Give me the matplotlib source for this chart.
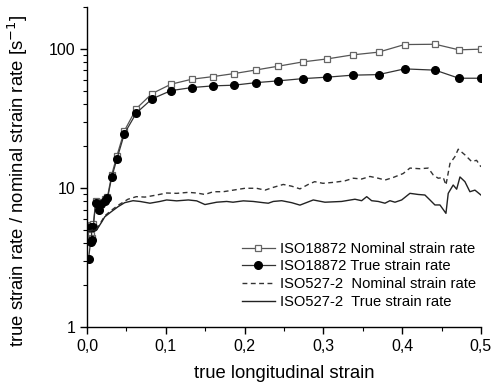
import matplotlib
matplotlib.use('Agg')
import matplotlib.pyplot as plt
from matplotlib.ticker import FixedLocator, FuncFormatter, LogLocator, NullFormatter

plt.rcParams['font.family'] = ['Liberation Sans', 'DejaVu Sans']

# ISO18872 series (markers)
iso18872_x = [0.002, 0.0045, 0.0065, 0.005, 0.008, 0.011, 0.015, 0.018, 0.023, 0.026,
              0.0313, 0.038, 0.0475, 0.0626, 0.0825, 0.1066, 0.133, 0.16, 0.1865,
              0.215, 0.243, 0.274, 0.305, 0.337, 0.370, 0.403, 0.442, 0.472, 0.5]
nominal_rate = [3.2, 4.6, 4.4, 5.4, 5.5, 8.0, 7.3, 7.9, 8.3, 8.66,
                12.4, 17.1, 25.8, 37.2, 47.7, 55.7, 60.5, 63.2, 66.4,
                70.6, 75.1, 80.6, 84.7, 90.5, 94.7, 107.4, 107.9, 98.4, 99.5]
true_rate = [3.1, 4.1, 4.2, 5.27, 5.27, 7.84, 7.0, 7.7, 8.1, 8.43,
             11.9, 16.2, 24.6, 34.6, 43.7, 50.1, 52.7, 54.2, 54.8,
             57.2, 58.9, 61.1, 62.6, 64.7, 65.3, 71.8, 70.3, 61.5, 61.5]

# ISO527-2 nominal strain rate (dashed)
iso527_nom_x = [0.0016, 0.0123, 0.0187, 0.0225, 0.0308, 0.0393, 0.0520, 0.0626, 0.0736,
                0.0884, 0.1011, 0.1138, 0.1286, 0.1392, 0.1497, 0.1603, 0.1730, 0.1857,
                0.2005, 0.2152, 0.2259, 0.2364, 0.2491, 0.2598, 0.2703, 0.2808, 0.2890,
                0.2995, 0.3147, 0.3274, 0.3380, 0.3486, 0.3591, 0.3697, 0.3782, 0.3887,
                0.4013, 0.4099, 0.4226, 0.4331, 0.4395, 0.4458, 0.4522, 0.4556, 0.4607,
                0.4670, 0.4712, 0.4797, 0.4881, 0.4945, 0.5]
iso527_nom = [4.9, 5.05, 5.8, 6.3, 6.9, 7.5, 8.3, 8.66, 8.6,
              8.9, 9.2, 9.15, 9.3, 9.2, 8.98, 9.4, 9.4, 9.65,
              9.95, 9.95, 9.65, 10.1, 10.6, 10.3, 9.85, 10.6, 11.1,
              10.8, 11.0, 11.25, 11.75, 11.6, 12.1, 11.75, 11.4, 11.9,
              12.7, 13.9, 13.75, 13.9, 12.4, 11.75, 11.9, 10.5, 15.0,
              16.8, 19.0, 17.3, 15.5, 15.8, 14.2]

# ISO527-2 true strain rate (solid)
iso527_true_x = [0.0016, 0.0123, 0.0187, 0.0225, 0.0308, 0.0393, 0.0478, 0.0584, 0.0673,
                 0.0799, 0.0926, 0.1011, 0.1138, 0.1286, 0.1392, 0.1497, 0.1646, 0.1773,
                 0.1853, 0.1984, 0.2110, 0.2237, 0.2301, 0.2364, 0.2471, 0.2598, 0.2703,
                 0.2872, 0.3020, 0.3232, 0.3401, 0.3486, 0.3550, 0.3613, 0.3697, 0.3782,
                 0.3845, 0.3909, 0.3994, 0.4099, 0.4204, 0.4289, 0.4353, 0.4416, 0.4480,
                 0.4556, 0.4585, 0.4648, 0.4692, 0.4734, 0.4797, 0.4860, 0.4924, 0.5]
iso527_true = [4.85, 5.0, 5.7, 6.2, 6.75, 7.33, 7.84, 8.1, 8.0,
               7.77, 8.0, 8.2, 8.08, 8.2, 8.08, 7.6, 7.9, 8.0,
               7.9, 8.08, 8.0, 7.84, 7.77, 8.0, 8.1, 7.84, 7.53,
               8.2, 7.9, 8.0, 8.3, 8.1, 8.66, 8.1, 8.0, 7.77,
               8.1, 7.9, 8.2, 9.15, 8.98, 8.9, 8.2, 7.55, 7.55,
               6.57, 9.15, 10.5, 9.8, 12.0, 11.1, 9.4, 9.65, 8.9]

fig = plt.figure(figsize=(4.93, 3.88), dpi=100)
ax = fig.add_axes([0.1765, 0.157, 0.799, 0.825])

ax.plot(iso18872_x[1:], nominal_rate[1:], color='#555555', lw=0.9, marker='s', ms=5,
        mfc='white', mec='#666666', mew=0.9, label='ISO18872 Nominal strain rate')
ax.plot(iso18872_x, true_rate, color='#333333', lw=0.9, marker='o', ms=5.5,
        mfc='black', mec='black', label='ISO18872 True strain rate')
ax.plot(iso527_nom_x, iso527_nom, color='#333333', lw=1.0, ls=(0, (3.5, 2.5)),
        label='ISO527-2  Nominal strain rate')
ax.plot(iso527_true_x, iso527_true, color='#222222', lw=1.0,
        label='ISO527-2  True strain rate')

ax.set_yscale('log')
ax.set_xlim(0, 0.5)
ax.set_ylim(1, 200)

ax.xaxis.set_major_locator(FixedLocator([0, 0.1, 0.2, 0.3, 0.4, 0.5]))
ax.xaxis.set_minor_locator(FixedLocator([0.05, 0.15, 0.25, 0.35, 0.45]))
ax.xaxis.set_major_formatter(FuncFormatter(lambda v, p: ('%.1f' % v).replace('.', ',')))
ax.yaxis.set_major_locator(FixedLocator([1, 10, 100]))
ax.yaxis.set_major_formatter(FuncFormatter(lambda v, p: '%d' % v))
ax.yaxis.set_minor_locator(LogLocator(base=10, subs=range(2, 10)))
ax.yaxis.set_minor_formatter(NullFormatter())

for s in ['top', 'right']:
    ax.spines[s].set_visible(False)
for s in ['left', 'bottom']:
    ax.spines[s].set_linewidth(1.0)

ax.tick_params(which='major', direction='out', length=5, width=1.0, labelsize=11.5, colors='black')
ax.tick_params(which='minor', direction='out', length=3, width=0.8)

ax.set_xlabel('true longitudinal strain', fontsize=13.3, labelpad=8)
ax.set_ylabel('true strain rate / nominal strain rate [s$^{-1}$]', fontsize=13.3)
ax.yaxis.set_label_coords(-0.145, 0.456)

ax.legend(loc='lower right', bbox_to_anchor=(1.015, 0.025), frameon=False, fontsize=10.6,
          handlelength=2.2, handletextpad=0.4, labelspacing=0.25, borderaxespad=0.3)

fig.savefig('out.png', dpi=100)
